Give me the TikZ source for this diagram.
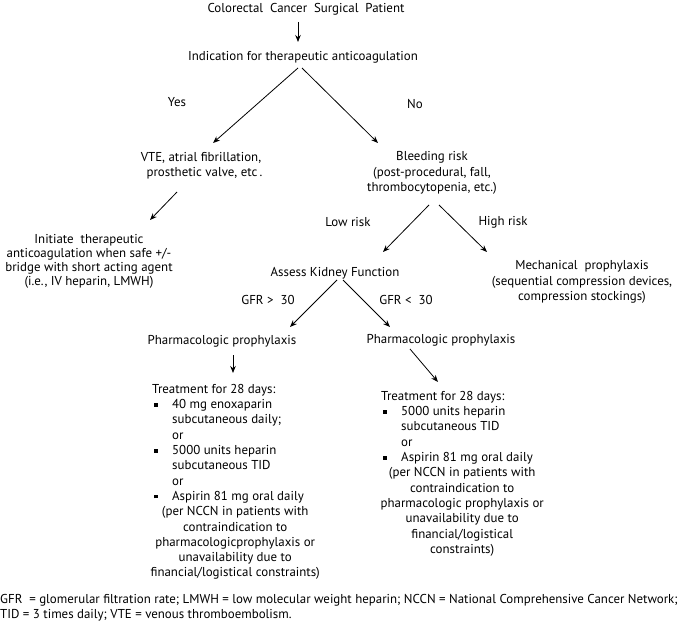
\documentclass[tikz,border=0pt]{standalone}
\usepackage{fontspec}
\setmainfont{PT Sans}
\usetikzlibrary{arrows.meta,calc}
\newcommand{\sqb}{\makebox[20pt][l]{\hspace{2pt}\rule[2pt]{3.8pt}{3.8pt}}}
\begin{document}
\begin{tikzpicture}[x=1pt,y=-1pt,
  txt/.style={inner sep=0pt,align=center,font=\fontsize{12.9}{15.4}\selectfont},
  blk/.style={inner sep=0pt,align=left,anchor=north west,font=\fontsize{12.9}{15.3}\selectfont},
  arr/.style={-{Stealth[length=7pt,width=5.5pt]},line width=0.8pt},
  ln/.style={line width=0.8pt}]
\useasboundingbox (0,0) rectangle (680,631);
\node[txt] (t1) at (306,9) {Colorectal\ \ Cancer\ \ Surgical\ \ Patient};
\node[txt] (ind) at (303,57) {Indication for therapeutic anticoagulation};
\node[txt] (yes) at (177,102) {Yes};
\node[txt] (no) at (415,104) {No};
\node[txt] (vte) at (201,166) {VTE, atrial fibrillation,\\ \ \ prosthetic valve, etc\,.};
\node[txt,font=\fontsize{12.9}{14}\selectfont] (init) at (89,261) {Initiate\ \ therapeutic\\ anticoagulation when safe +/-\\ bridge with short acting agent\\ (i.e., IV heparin, LMWH)};
\node[txt] (bleed) at (432,173) {Bleeding risk\\ (post-procedural, fall,\\ thrombocytopenia, etc.)};
\node[txt] (low) at (348,222) {Low risk};
\node[txt] (high) at (503,222) {High risk};
\node[txt] (mech) at (582,282) {Mechanical\ \ prophylaxis\\ (sequential compression devices,\\ compression stockings)};
\node[txt] (kid) at (335,273) {Assess Kidney Function};
\node[txt] (gfr1) at (268,300) {GFR >\ \ 30};
\node[txt] (gfr2) at (406,300) {GFR <\ \ 30};
\node[txt] (ph1) at (222,341) {Pharmacologic prophylaxis};
\node[txt] (ph2) at (441,340) {Pharmacologic prophylaxis};
\node[blk] (tl) at (152,384) {Treatment for 28 days:\\
\sqb 40 mg enoxaparin\\
\hspace*{20pt}subcutaneous daily;\\
\hspace*{20pt}or\\
\sqb 5000 units heparin\\
\hspace*{20pt}subcutaneous TID\\
\hspace*{20pt}or\\
\sqb Aspirin 81 mg oral daily\\
\makebox[166pt][c]{(per NCCN in patients with}\\
\makebox[166pt][c]{contraindication to}\\
\makebox[166pt][c]{pharmacologicprophylaxis or}\\
\makebox[166pt][c]{unavailability due to}\\
\makebox[166pt][c]{financial/logistical constraints)}};
\node[blk] (tr) at (381,391) {Treatment for 28 days:\\
\sqb 5000 units heparin\\
\hspace*{20pt}subcutaneous TID\\
\hspace*{20pt}or\\
\sqb Aspirin 81 mg oral daily\\
\makebox[162pt][c]{(per NCCN in patients with}\\
\makebox[162pt][c]{contraindication to}\\
\makebox[162pt][c]{pharmacologic prophylaxis or}\\
\makebox[162pt][c]{unavailability due to}\\
\makebox[162pt][c]{financial/logistical}\\
\makebox[162pt][c]{constraints)}};
\node[blk,font=\fontsize{12.9}{15}\selectfont] (foot) at (0,594) {GFR\ \ = glomerular filtration rate; LMWH = low molecular weight heparin; NCCN = National Comprehensive Cancer Network;\\ TID = 3 times daily; VTE = venous thromboembolism.};
% connectors
\draw[arr] ([shift={(-8,13)}]t1.center) -- ([shift={(-5,-15)}]ind.center);
\draw[arr] ([shift={(-5,11)}]ind.center) -- ([shift={(12,-23)}]vte.center);
\draw[arr] ([shift={(-1,11)}]ind.center) -- ([shift={(-54,-30)}]bleed.center);
\draw[arr] ([shift={(-24,26)}]vte.center) -- ([shift={(61,-41)}]init.center);
\draw[arr] ([shift={(-3,32)}]bleed.center) -- ([shift={(48,-21)}]kid.center);
\draw[arr] ([shift={(7,32)}]bleed.center) -- ([shift={(-95,-30)}]mech.center);
\draw[arr] ([shift={(2,7)}]kid.center) -- ([shift={(68,-14)}]ph1.center);
\draw[arr] ([shift={(8,7)}]kid.center) -- ([shift={(-51,-13)}]ph2.center);
\draw[arr] ([shift={(11,14)}]ph1.center) -- ([shift={(81,-11)}]tl.north west);
\draw[arr] ([shift={(-31,9)}]ph2.center) -- ([shift={(57,-9)}]tr.north west);
\end{tikzpicture}
\end{document}
